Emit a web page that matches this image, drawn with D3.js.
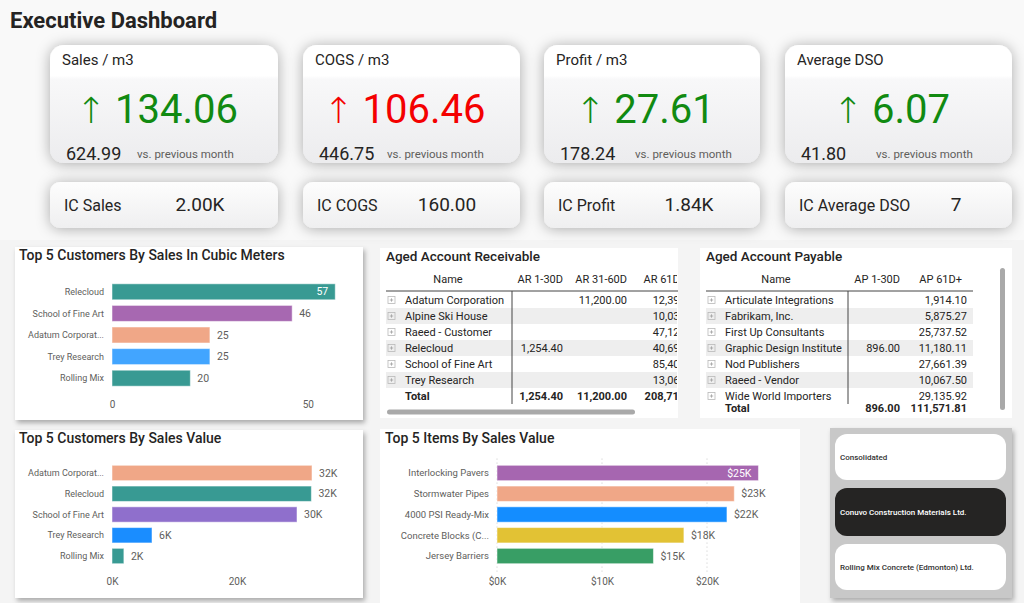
<!DOCTYPE html>
<html><head><meta charset="utf-8">
<script src="https://cdn.jsdelivr.net/npm/d3@7"></script>
<style>
body{margin:0;background:#f5f5f5;}
svg{display:block;font-family:Roboto,"Noto Sans",sans-serif;}
</style>
</head><body>
<svg id="c" width="1024" height="603"></svg>
<script>
// ---------------- DATA ----------------
const kpiTitles = ["Sales / m3", "COGS / m3", "Profit / m3", "Average DSO"];
const kpiValues = [134.06, 106.46, 27.61, 6.07];
const kpiPrevious = [624.99, 446.75, 178.24, 41.80];
const kpiColors = ["#118a11", "#f40000", "#118a11", "#118a11"];
const icTitles = ["IC Sales", "IC COGS", "IC Profit", "IC Average DSO"];
const icValues = ["2.00K", "160.00", "1.84K", "7"];

const custM3Names = ["Relecloud", "School of Fine Art", "Adatum Corporat...", "Trey Research", "Rolling Mix"];
const custM3Values = [57, 46, 25, 25, 20];
const custM3Colors = ["#389a93", "#a768b1", "#f0a787", "#42a5ff", "#389a93"];
const custM3Ticks = [0, 50];

const custValNames = ["Adatum Corporat...", "Relecloud", "School of Fine Art", "Trey Research", "Rolling Mix"];
const custValValues = [32.0, 31.9, 29.6, 6.4, 1.9]; // thousands
const custValColors = ["#f0a787", "#389a93", "#8f6fcc", "#1a8dff", "#389a93"];
const custValTicks = [0, 20];

const itemNames = ["Interlocking Pavers", "Stormwater Pipes", "4000 PSI Ready-Mix", "Concrete Blocks (C...", "Jersey Barriers"];
const itemValues = [24.9, 22.6, 21.9, 17.8, 14.9]; // thousands
const itemColors = ["#a666b0", "#f0a787", "#148dff", "#e2c234", "#389e65"];
const itemTicks = [0, 10, 20];

const arHeaders = ["Name", "AR 1-30D", "AR 31-60D", "AR 61D+"];
const arNames = ["Adatum Corporation", "Alpine Ski House", "Raeed - Customer", "Relecloud", "School of Fine Art", "Trey Research"];
const ar1to30 = [null, null, null, 1254.40, null, null];
const ar31to60 = [11200.00, null, null, null, null, null];
const ar61plus = [12394.20, 10032.50, 47123.80, 40694.10, 85405.30, 13068.60];
const arTotals = [1254.40, 11200.00, 208718.50];

const apHeaders = ["Name", "AP 1-30D", "AP 61D+"];
const apNames = ["Articulate Integrations", "Fabrikam, Inc.", "First Up Consultants", "Graphic Design Institute", "Nod Publishers", "Raeed - Vendor", "Wide World Importers"];
const ap1to30 = [null, null, null, 896.00, null, null, null];
const ap61plus = [1914.10, 5875.27, 25737.52, 11180.11, 27661.39, 10067.50, 29135.92];
const apTotals = [896.00, 111571.81];

const slicerItems = ["Consolidated", "Conuvo Construction Materials Ltd.", "Rolling Mix Concrete (Edmonton) Ltd."];
const slicerSelected = 1;

// ---------------- SETUP ----------------
const svg = d3.select("#c");
const dark = "#252423", gray = "#605e5c";
const defs = svg.append("defs");
const f1 = defs.append("filter").attr("id", "cardShadow").attr("x", "-25%").attr("y", "-50%").attr("width", "150%").attr("height", "200%");
f1.append("feDropShadow").attr("dx", 0).attr("dy", 1).attr("stdDeviation", 7).attr("flood-color", "#000").attr("flood-opacity", 0.32);
const f2 = defs.append("filter").attr("id", "panelShadow").attr("x", "-5%").attr("y", "-5%").attr("width", "115%").attr("height", "115%");
f2.append("feDropShadow").attr("dx", 2).attr("dy", 3).attr("stdDeviation", 2.5).attr("flood-color", "#000").attr("flood-opacity", 0.3);
const g1 = defs.append("linearGradient").attr("id", "kpiGrad").attr("x1", 0).attr("y1", 0).attr("x2", 0).attr("y2", 1);
[[0, "#ffffff"], [0.26, "#ffffff"], [0.29, "#f8f8f9"], [1, "#ececee"]].forEach(([o, c]) => g1.append("stop").attr("offset", o).attr("stop-color", c));
const g2 = defs.append("linearGradient").attr("id", "icGrad").attr("x1", 0).attr("y1", 0).attr("x2", 0).attr("y2", 1);
[[0, "#fdfdfd"], [1, "#efeff0"]].forEach(([o, c]) => g2.append("stop").attr("offset", o).attr("stop-color", c));

svg.append("rect").attr("width", 1024).attr("height", 603).attr("fill", "#f4f4f4");
svg.append("rect").attr("width", 1024).attr("height", 240).attr("fill", "#f9f9f9");

svg.append("text").attr("x", 10).attr("y", 28).attr("font-size", 22).attr("font-weight", 700)
  .attr("fill", dark).text("Executive Dashboard");

// ---------------- KPI CARDS ----------------
const cardX = [50, 303, 544, 785];
const cardW = [228, 217, 216, 227];
const vsOffset = [87, 84, 91, 91];
const icValueOffset = [150, 144, 145, 171];

kpiTitles.forEach((t, i) => {
  const g = svg.append("g");
  g.append("rect").attr("x", cardX[i]).attr("y", 45).attr("width", cardW[i]).attr("height", 118).attr("rx", 14)
    .attr("fill", "url(#kpiGrad)").attr("filter", "url(#cardShadow)");
  g.append("text").attr("x", cardX[i] + 12).attr("y", 65).attr("font-size", 15).attr("fill", dark).text(t);
  const big = g.append("text").attr("x", cardX[i] + cardW[i] / 2 - 7).attr("y", 123).attr("text-anchor", "middle")
    .attr("font-size", 40).attr("fill", kpiColors[i]);
  big.append("tspan").attr("font-family", "DejaVu Sans").attr("font-weight", 200).attr("font-size", 36).text("↑");
  big.append("tspan").attr("dx", 9).text(d3.format(".2f")(kpiValues[i]));
  g.append("text").attr("x", cardX[i] + 16).attr("y", 160).attr("font-size", 18).attr("fill", dark)
    .text(d3.format(".2f")(kpiPrevious[i]));
  g.append("text").attr("x", cardX[i] + vsOffset[i]).attr("y", 158).attr("font-size", 11.5).attr("fill", gray)
    .text("vs. previous month");

  g.append("rect").attr("x", cardX[i]).attr("y", 182).attr("width", cardW[i]).attr("height", 46).attr("rx", 10)
    .attr("fill", "url(#icGrad)").attr("filter", "url(#cardShadow)");
  g.append("text").attr("x", cardX[i] + 14).attr("y", 211).attr("font-size", 16).attr("fill", dark).text(icTitles[i]);
  g.append("text").attr("x", cardX[i] + icValueOffset[i]).attr("y", 211).attr("text-anchor", "middle")
    .attr("font-size", 19).attr("fill", dark).text(icValues[i]);
});

// ---------------- BAR CHARTS ----------------
function panel(x, y, w, h, shadow) {
  svg.append("rect").attr("x", x).attr("y", y).attr("width", w).attr("height", h).attr("fill", "#fff")
    .attr("filter", shadow ? "url(#panelShadow)" : null);
}
function title(x, y, t, size) {
  svg.append("text").attr("x", x).attr("y", y).attr("font-size", size).attr("font-weight", 500)
    .attr("fill", dark).text(t);
}
function barChart(c) {
  const x = d3.scaleLinear().domain(c.domain).range(c.xRange);
  const y = d3.scaleBand().domain(c.names).range(c.yRange).paddingInner(0.26).paddingOuter(0.13);
  const g = svg.append("g");
  if (c.grid) {
    g.selectAll("line.grid").data(c.ticks).join("line")
      .attr("x1", d => x(d)).attr("x2", d => x(d)).attr("y1", c.yRange[0] - 4).attr("y2", c.axisY)
      .attr("stroke", "#c8c8c8").attr("stroke-dasharray", "1,3");
  }
  g.selectAll("rect.bar").data(c.values).join("rect")
    .attr("x", x(0)).attr("y", (d, i) => y(c.names[i])).attr("width", d => x(d) - x(0))
    .attr("height", y.bandwidth()).attr("fill", (d, i) => c.colors[i])
    .attr("stroke", "#fff").attr("stroke-opacity", 0.5).attr("stroke-width", 1);
  g.selectAll("text.cat").data(c.names).join("text")
    .attr("x", c.xRange[0] - 8).attr("y", d => y(d) + y.bandwidth() / 2).attr("dy", "0.35em")
    .attr("text-anchor", "end").attr("font-size", c.catSize).attr("fill", gray).text(d => d);
  g.selectAll("text.val").data(c.values).join("text")
    .each(function (d) {
      const inside = x(d) + 45 > c.panelRight;
      d3.select(this).attr("x", inside ? x(d) - 7 : x(d) + 7).attr("text-anchor", inside ? "end" : "start")
        .attr("fill", inside ? "#fff" : gray);
    })
    .attr("y", (d, i) => y(c.names[i]) + y.bandwidth() / 2).attr("dy", "0.35em")
    .attr("font-size", 10.5).text(c.fmt);
  const ax = g.append("g").attr("transform", `translate(0,${c.axisY})`)
    .call(d3.axisBottom(x).tickValues(c.ticks).tickFormat(c.tickFmt).tickSize(0).tickPadding(6));
  ax.select(".domain").remove();
  ax.selectAll("text").attr("fill", gray).attr("font-size", 10).attr("font-family", "Roboto");
}

panel(15, 247, 348, 173, true);
title(19, 260, "Top 5 Customers By Sales In Cubic Meters", 14);
barChart({names: custM3Names, values: custM3Values, colors: custM3Colors, domain: [0, 60], xRange: [112, 347],
  yRange: [281, 389], axisY: 395, ticks: custM3Ticks, tickFmt: d => d, fmt: d => d, panelRight: 363, catSize: 9});

panel(15, 430, 348, 168, true);
title(19, 443, "Top 5 Customers By Sales Value", 14);
barChart({names: custValNames, values: custValValues, colors: custValColors, domain: [0, 35], xRange: [112, 330.75],
  yRange: [462.6, 566.4], axisY: 572, ticks: custValTicks, tickFmt: d => d + "K", fmt: d => Math.round(d) + "K",
  panelRight: 363, catSize: 9});

panel(380, 429, 420, 174, false);
title(385, 443, "Top 5 Items By Sales Value", 14);
barChart({names: itemNames, values: itemValues, colors: itemColors, domain: [0, 25], xRange: [497, 759.5],
  yRange: [462.6, 566.4], axisY: 572, ticks: itemTicks, tickFmt: d => "$" + d + "K", fmt: d => "$" + Math.round(d) + "K",
  panelRight: 800, catSize: 9.5, grid: true});

// ---------------- TABLES ----------------
const num = d3.format(",.2f");
function plusBox(g, x, yc) {
  g.append("rect").attr("x", x).attr("y", yc - 3.5).attr("width", 7).attr("height", 7)
    .attr("fill", "none").attr("stroke", "#b8b8b8").attr("stroke-width", 0.8);
  g.append("path").attr("d", `M${x + 1.8},${yc}H${x + 5.2}M${x + 3.5},${yc - 1.7}V${yc + 1.7}`)
    .attr("stroke", "#a0a0a0").attr("stroke-width", 0.8);
}
function table(c) {
  panel(c.x, 248, c.w, 170, false);
  title(c.x + 6, 261, c.title, 13.5);
  const clipId = "clip" + c.id;
  defs.append("clipPath").attr("id", clipId).append("rect")
    .attr("x", c.x).attr("y", 265).attr("width", c.clipRight - c.x).attr("height", c.bodyBottom - 265);
  const g = svg.append("g").attr("clip-path", `url(#${clipId})`);
  const rowH = 16, first = 300;
  c.names.forEach((n, i) => {
    const yc = first + i * rowH;
    if (i % 2 === 1) g.append("rect").attr("x", c.x + 6).attr("y", yc - 8).attr("width", c.lineRight - c.x - 6)
      .attr("height", rowH).attr("fill", "#eeeeee");
  });
  g.append("text").attr("x", c.nameCenter).attr("y", 283).attr("text-anchor", "middle").attr("font-size", 11)
    .attr("fill", dark).text(c.headers[0]);
  c.cols.forEach((col, j) => {
    g.append("text").attr("x", c.headRight[j]).attr("y", 283).attr("text-anchor", "end").attr("font-size", 11)
      .attr("fill", dark).text(c.headers[j + 1]);
  });
  c.names.forEach((n, i) => {
    const yc = first + i * rowH;
    plusBox(g, c.x + 8, yc);
    g.append("text").attr("x", c.x + 25).attr("y", yc + 4).attr("font-size", 11).attr("fill", dark).text(n);
    c.cols.forEach((col, j) => {
      if (col[i] != null) g.append("text").attr("x", c.colRight[j]).attr("y", yc + 4).attr("text-anchor", "end")
        .attr("font-size", 11).attr("fill", dark).text(num(col[i]));
    });
  });
  const tg = svg.append("g").attr("clip-path", `url(#${clipId}t)`);
  defs.append("clipPath").attr("id", clipId + "t").append("rect")
    .attr("x", c.x).attr("y", c.totalY - 12).attr("width", c.clipRight - c.x).attr("height", 18);
  tg.append("text").attr("x", c.x + 25).attr("y", c.totalY + 4).attr("font-size", 11).attr("font-weight", 700)
    .attr("fill", dark).text("Total");
  c.totals.forEach((t, j) => {
    tg.append("text").attr("x", c.colRight[j]).attr("y", c.totalY + 4).attr("text-anchor", "end")
      .attr("font-size", 11).attr("font-weight", 700).attr("fill", dark).text(num(t));
  });
  svg.append("line").attr("x1", c.x + 6).attr("x2", c.lineRight).attr("y1", 291).attr("y2", 291)
    .attr("stroke", "#444").attr("stroke-width", 1);
  svg.append("line").attr("x1", c.vline).attr("x2", c.vline).attr("y1", 291).attr("y2", 404)
    .attr("stroke", "#444").attr("stroke-width", 1);
}

table({id: "ar", x: 380, w: 298, title: "Aged Account Receivable", headers: arHeaders, names: arNames,
  cols: [ar1to30, ar31to60, ar61plus], totals: arTotals, colRight: [563, 627, 701], headRight: [563, 627, 686],
  nameCenter: 448, clipRight: 677, lineRight: 678, vline: 512, bodyBottom: 404, totalY: 396});
svg.append("rect").attr("x", 387).attr("y", 409.5).attr("width", 248).attr("height", 5).attr("rx", 2.5).attr("fill", "#a9a9a9");

table({id: "ap", x: 700, w: 312, title: "Aged Account Payable", headers: apHeaders, names: apNames,
  cols: [ap1to30, ap61plus], totals: apTotals, colRight: [900, 967], headRight: [900, 962],
  nameCenter: 776, clipRight: 990, lineRight: 973, vline: 848, bodyBottom: 400.5, totalY: 408});
svg.append("rect").attr("x", 1000).attr("y", 268).attr("width", 5).attr("height", 142).attr("rx", 2.5).attr("fill", "#a9a9a9");

// ---------------- SLICER ----------------
svg.append("rect").attr("x", 830).attr("y", 428).attr("width", 182).attr("height", 170).attr("fill", "#c8c8c8")
  .attr("filter", "url(#panelShadow)");
const btnY = [434, 488, 544];
const btnH = [46, 48, 46];
slicerItems.forEach((s, i) => {
  const sel = i === slicerSelected;
  svg.append("rect").attr("x", 835).attr("y", btnY[i]).attr("width", 171).attr("height", btnH[i]).attr("rx", 12)
    .attr("fill", sel ? "#252423" : "#ffffff");
  svg.append("text").attr("x", 840).attr("y", btnY[i] + btnH[i] / 2 + 2.5).attr("font-size", 8).attr("font-weight", 500)
    .attr("fill", sel ? "#ffffff" : "#333333").text(s);
});
</script>
</body></html>
